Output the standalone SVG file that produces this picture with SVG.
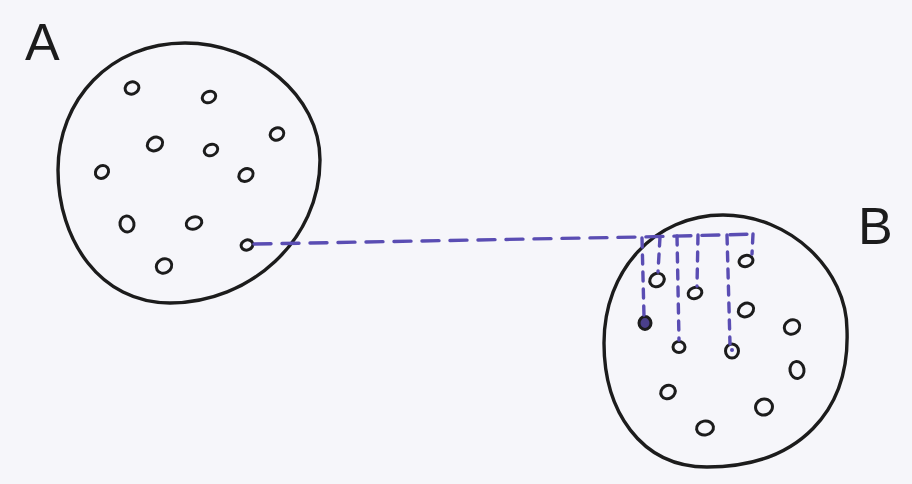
<svg xmlns="http://www.w3.org/2000/svg" width="912" height="484" viewBox="0 0 912 484">
<style>
.blob{fill:none;stroke:#1c1c1c;stroke-width:3.4;stroke-linejoin:round}
.dot{fill:none;stroke:#1c1c1c;stroke-width:3}
.lbl{font-family:"Liberation Sans",Arial,sans-serif;font-size:52px;fill:#1c1c1c}
.dash{fill:none;stroke:#5a4db3;stroke-width:3.4;stroke-linecap:round}
.main{stroke-dasharray:17 11}
.vert{stroke-dasharray:9 8}
</style>
<rect width="912" height="484" fill="#f6f6fa"/>
<g id="regionA">
<path class="blob" d="M185 43 C255 43 320 95 320 160 C320 240 250 303 170 303 C100 303 58 240 58 170 C58 100 110 43 185 43 Z"/>
<text class="lbl" x="25" y="60">A</text>
</g>
<g id="dotsA">
<ellipse id="a1" class="dot" cx="132" cy="88" rx="7" ry="6" transform="rotate(-20 132 88)"/>
<ellipse id="a2" class="dot" cx="209" cy="97" rx="7" ry="5.5" transform="rotate(-25 209 97)"/>
<ellipse id="a3" class="dot" cx="155" cy="144" rx="8" ry="6.5" transform="rotate(-30 155 144)"/>
<ellipse id="a4" class="dot" cx="211" cy="150" rx="7" ry="5.5" transform="rotate(-25 211 150)"/>
<ellipse id="a5" class="dot" cx="277" cy="134" rx="7" ry="6" transform="rotate(-25 277 134)"/>
<ellipse id="a6" class="dot" cx="102" cy="172" rx="7" ry="6" transform="rotate(-40 102 172)"/>
<ellipse id="a7" class="dot" cx="246" cy="175" rx="7.5" ry="6" transform="rotate(-30 246 175)"/>
<ellipse id="a8" class="dot" cx="127" cy="224" rx="7" ry="8" transform="rotate(-10 127 224)"/>
<ellipse id="a9" class="dot" cx="194" cy="223" rx="8" ry="6" transform="rotate(-20 194 223)"/>
<ellipse id="a10" class="dot" cx="247" cy="245" rx="6" ry="5" transform="rotate(-20 247 245)"/>
<ellipse id="a11" class="dot" cx="164" cy="266" rx="8" ry="7" transform="rotate(-30 164 266)"/>
</g>
<g id="regionB">
<path class="blob" d="M723 215 C790 215 847 270 847 330 C850 410 800 467 707 467 C640 467 604 410 604 343 C604 270 655 215 723 215 Z"/>
<text class="lbl" x="858" y="244">B</text>
</g>
<g id="dotsB">
<ellipse id="b1" class="dot" cx="746" cy="261" rx="7" ry="5.5" transform="rotate(-15 746 261)"/>
<ellipse id="b2" class="dot" cx="657" cy="280" rx="7.5" ry="6.5" transform="rotate(-30 657 280)"/>
<ellipse id="b3" class="dot" cx="695" cy="293" rx="7" ry="5.5" transform="rotate(-20 695 293)"/>
<ellipse id="b4" class="dot" cx="746" cy="310" rx="8" ry="6.5" transform="rotate(-30 746 310)"/>
<ellipse id="b5" class="dot" cx="645" cy="323" rx="6" ry="6.5" style="fill:#4a3f8a"/>
<ellipse id="b6" class="dot" cx="792" cy="327" rx="8" ry="7" transform="rotate(-30 792 327)"/>
<ellipse id="b7" class="dot" cx="679" cy="347" rx="6" ry="5.5"/>
<ellipse id="b8" class="dot" cx="732" cy="351" rx="6.5" ry="7"/>
<circle cx="732" cy="350" r="2" fill="#5a4db3"/>
<ellipse id="b9" class="dot" cx="797" cy="370" rx="7" ry="8.5" transform="rotate(-10 797 370)"/>
<ellipse id="b10" class="dot" cx="668" cy="392" rx="7.5" ry="6.5" transform="rotate(-30 668 392)"/>
<ellipse id="b11" class="dot" cx="764" cy="407" rx="8.5" ry="8" transform="rotate(-20 764 407)"/>
<ellipse id="b12" class="dot" cx="705" cy="428" rx="8.5" ry="7" transform="rotate(-10 705 428)"/>
</g>
<g id="connectors">
<path class="dash main" d="M254 244 L640 237 L757 234"/>
<path class="dash vert" d="M642 238 L644 316"/>
<path class="dash vert" d="M660 237 L658 272"/>
<path class="dash vert" d="M677 236 L679 340"/>
<path class="dash vert" d="M698 235 L697 286"/>
<path class="dash vert" d="M727 235 L730 344"/>
<path class="dash vert" d="M753 234 L752 254"/>
</g>
</svg>
